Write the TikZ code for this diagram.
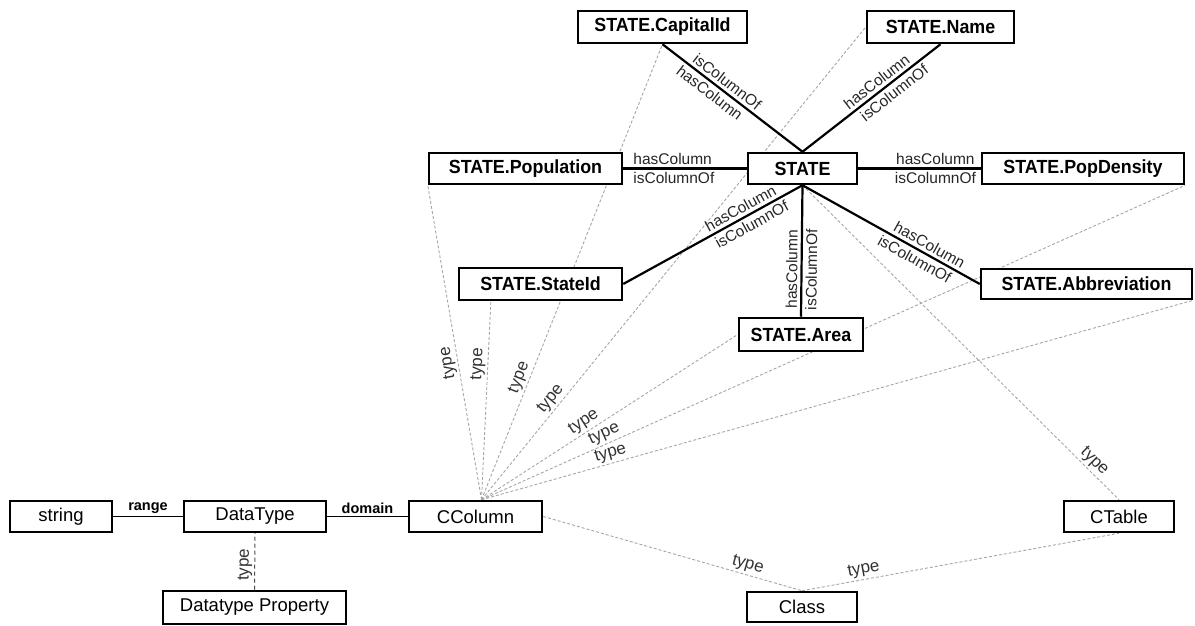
\documentclass[tikz,border=0pt]{standalone}
\usepackage{fontspec}
\setmainfont{Liberation Sans}
\newfontfamily\colfont{Liberation Sans}[FakeStretch=0.94]
\usetikzlibrary{calc,backgrounds}
\tikzset{
  colbox/.style={draw, line width=2.5pt, fill=white, inner sep=0pt,
    font=\colfont\bfseries\fontsize{19}{21}\selectfont},
  plainbox/.style={draw, line width=2.5pt, fill=white, inner sep=0pt,
    font=\fontsize{18.5}{20}\selectfont},
  coledge/.style={line width=2.2pt},
  rel/.style={font=\fontsize{15.5}{17}\selectfont, sloped, inner sep=3pt, text=black!85},
  typeedge/.style={draw=black!35, line width=0.9pt, dash pattern=on 3pt off 2pt},
  typelbl/.style={font=\fontsize{17}{18}\selectfont, sloped, allow upside down,
    above, inner sep=2pt, text=black!80},
  propedge/.style={line width=1.1pt},
  proplbl/.style={font=\bfseries\fontsize{14.5}{16}\selectfont, above, inner sep=2.5pt},
}
\begin{document}
\begin{tikzpicture}[x=1pt, y=1pt]
\useasboundingbox (0,0) rectangle (1195,626);

% table columns
\node[colbox, minimum width=169, minimum height=32] (capital)    at (662.5, 599)   {STATE.CapitalId};
\node[colbox, minimum width=147, minimum height=32] (name)       at (940.5, 599)   {STATE.Name};
\node[colbox, minimum width=193, minimum height=31] (population) at (525.5, 457.5) {STATE.Population};
\node[colbox, minimum width=109, minimum height=31] (state)      at (802.5, 457.5) {STATE};
\node[colbox, minimum width=202, minimum height=31] (popdensity) at (1083, 457.5)  {STATE.PopDensity};
\node[colbox, minimum width=163, minimum height=32] (stateid)    at (540.5, 342)   {STATE.StateId};
\node[colbox, minimum width=124, minimum height=33] (area)       at (801, 291.5)   {STATE.Area};
\node[colbox, minimum width=211, minimum height=30] (abbrev)     at (1086.5, 342)  {STATE.Abbreviation};

% schema classes
\node[plainbox, minimum width=102, minimum height=31] (string)   at (61, 109.5)    {string};
\node[plainbox, minimum width=142, minimum height=31] (datatype) at (255, 109.5)   {DataType};
\node[plainbox, minimum width=133, minimum height=31] (ccolumn)  at (475.5, 109.5) {CColumn};
\node[plainbox, minimum width=110, minimum height=31] (ctable)   at (1119, 109.5)  {CTable};
\node[plainbox, minimum width=110, minimum height=30] (class)    at (802, 19)      {Class};
\node[plainbox, minimum width=183, minimum height=33] (dtprop)   at (254.5, 18.5)  {Datatype Property};

% hasColumn / isColumnOf links
\draw[coledge] (capital.south) -- node[rel, above, pos=0.42]{isColumnOf}
                                  node[rel, below, pos=0.38]{hasColumn} (state.north);
\draw[coledge] (state.north) -- node[rel, above, pos=0.58]{hasColumn}
                                node[rel, below, pos=0.62]{isColumnOf} (name.south);
\draw[coledge] (population.east) -- node[rel, above, pos=0.4]{hasColumn}
                                    node[rel, below, pos=0.41]{isColumnOf} (state.west);
\draw[coledge] (state.east) -- node[rel, above, pos=0.63]{hasColumn}
                               node[rel, below, pos=0.63]{isColumnOf} (popdensity.west);
\draw[coledge] (stateid.east) -- node[rel, above, pos=0.68]{hasColumn}
                                 node[rel, below, pos=0.69]{isColumnOf} (state.south);
\draw[coledge] (state.south) -- node[rel, above, pos=0.69]{hasColumn}
                                node[rel, below, pos=0.66]{isColumnOf} (abbrev.west);
\draw[coledge] (area.north) -- node[rel, above, pos=0.36]{hasColumn}
                               node[rel, below, pos=0.36]{isColumnOf} (state.south);

% property links
\draw[propedge] (string.east) -- node[proplbl]{range} (datatype.west);
\draw[propedge] (datatype.east) -- node[proplbl]{domain} (ccolumn.west);
\draw[line width=1pt, draw=black!70, dash pattern=on 4pt off 3pt]
  (dtprop.north) -- node[typelbl, pos=0.44]{type} (datatype.south);

% rdf:type links, behind the boxes
\begin{scope}[on background layer]
\draw[typeedge] ([xshift=6pt]ccolumn.north) -- node[typelbl, pos=0.44]{type} (population.south west);
\draw[typeedge] ([xshift=6pt]ccolumn.north) -- node[typelbl, pos=0.68]{type}
  ($(stateid.south west)!0.2!(stateid.south east)$);
\draw[typeedge] ([xshift=6pt]ccolumn.north) -- node[typelbl, pos=0.26]{type} (capital.south);
\draw[typeedge] ([xshift=6pt]ccolumn.north) -- node[typelbl, pos=0.2]{type} (name.west);
\draw[typeedge] ([xshift=6pt]ccolumn.north) -- node[typelbl, pos=0.42]{type} (area.west);
\draw[typeedge] ([xshift=6pt]ccolumn.north) -- node[typelbl, pos=0.18]{type} (popdensity.south east);
\draw[typeedge] ([xshift=6pt]ccolumn.north) -- node[typelbl, pos=0.185]{type} (abbrev.south east);
\draw[typeedge] (state.south) -- node[typelbl, pos=0.9]{type} (ctable.north);
\draw[typeedge] (ccolumn.east) -- node[typelbl, pos=0.78]{type} (class.north);
\draw[typeedge] (class.north) -- node[typelbl, pos=0.2]{type} (ctable.south);
\end{scope}
\end{tikzpicture}
\end{document}
